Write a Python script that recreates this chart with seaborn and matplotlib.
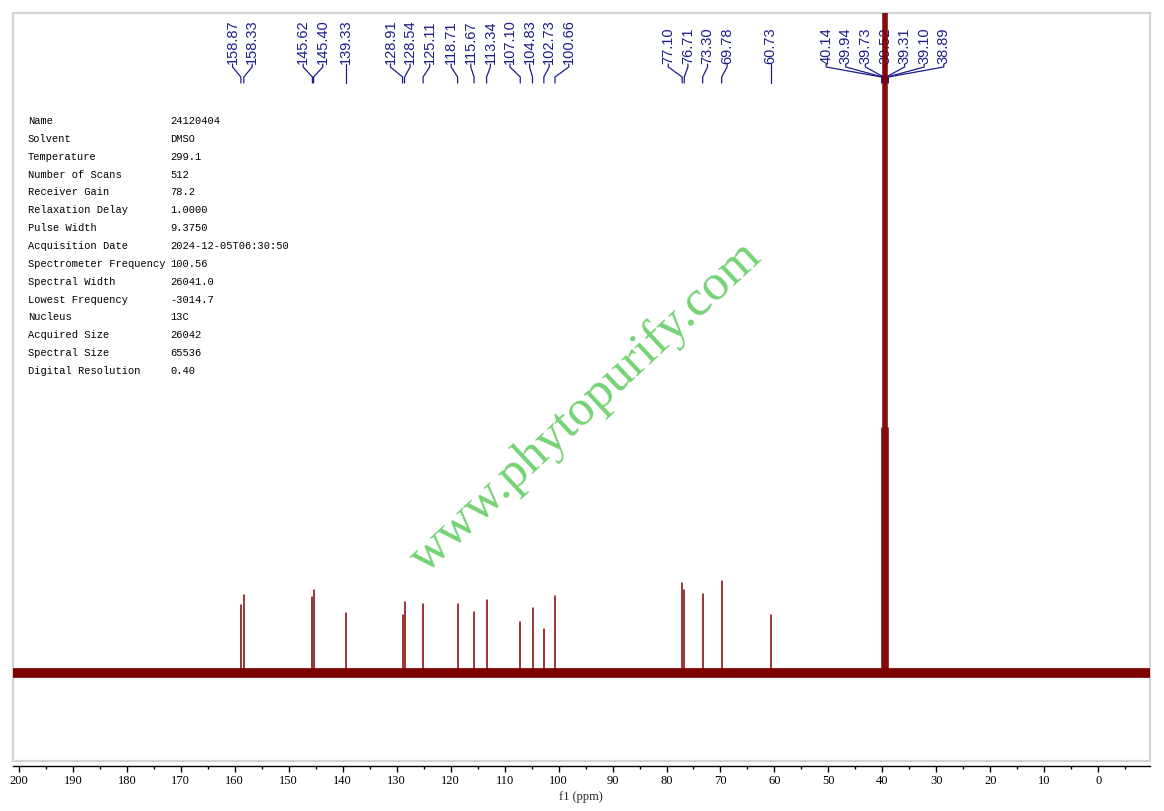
import numpy as np
import pandas as pd
import matplotlib
matplotlib.use("Agg")
import matplotlib.pyplot as plt
import matplotlib.transforms as mtransforms
from matplotlib.patches import Rectangle
import seaborn as sns

# ---------------- data ----------------
peak_ppm = [158.87, 158.33, 145.62, 145.40, 139.33, 128.91, 128.54, 125.11,
            118.71, 115.67, 113.34, 107.10, 104.83, 102.73, 100.66,
            77.10, 76.71, 73.30, 69.78, 60.73,
            40.14, 39.94, 39.73, 39.52, 39.31, 39.10, 38.89]
peak_height = [68, 78, 76, 83, 60, 58, 71, 69,
               69, 61, 73, 51, 65, 44, 77,
               90, 83, 79, 92, 58,
               245, 900, 900, 900, 900, 900, 245]

param_names = ["Name", "Solvent", "Temperature", "Number of Scans", "Receiver Gain",
               "Relaxation Delay", "Pulse Width", "Acquisition Date",
               "Spectrometer Frequency", "Spectral Width", "Lowest Frequency",
               "Nucleus", "Acquired Size", "Spectral Size", "Digital Resolution"]
param_values = ["24120404", "DMSO", "299.1", "512", "78.2", "1.0000", "9.3750",
                "2024-12-05T06:30:50", "100.56", "26041.0", "-3014.7", "13C",
                "26042", "65536", "0.40"]

major_ticks = list(range(200, -1, -10))
watermark = "www.phytopurify.com"
xlabel = "f1 (ppm)"

# ---------------- style ----------------
sns.set_theme(style="white")
plt.rcParams['font.family'] = ['DejaVu Sans']

W, H = 1164, 811
fig = plt.figure(figsize=(W / 100, H / 100), dpi=100)
ax_left, ax_right, ax_top, ax_bottom = 13, 1149.5, 12.5, 760.5
ax = fig.add_axes([ax_left / W, 1 - ax_bottom / H, (ax_right - ax_left) / W,
                   (ax_bottom - ax_top) / H])
ax.set_facecolor("white")

XMAX, XMIN = 201.1, -9.5
ax.set_xlim(XMAX, XMIN)
ax.set_ylim(-87.5, 660.5)

SPEC = "#7d0000"
NAVY = "#1c1c8c"

# baseline (noise band)
ax.axhline(0, color=SPEC, lw=7, zorder=3, solid_capstyle="butt")

# stick spectrum via seaborn
rows = []
for i, (p, h) in enumerate(zip(peak_ppm, peak_height)):
    rows.append({"ppm": p, "intensity": 0.0, "peak": i})
    rows.append({"ppm": p, "intensity": float(h), "peak": i})
df = pd.DataFrame(rows)
sns.lineplot(data=df, x="ppm", y="intensity", units="peak", estimator=None,
             color=SPEC, lw=1.1, ax=ax, zorder=4, legend=False)

# ---------------- spines / box ----------------
for s in ["left", "right", "top"]:
    ax.spines[s].set_visible(False)
ax.add_patch(Rectangle((0, 0), 1, 1, transform=ax.transAxes, fill=False,
                       edgecolor="#d4d4d4", lw=1.6, clip_on=False, zorder=0))
ax.spines["bottom"].set_visible(True)
ax.spines["bottom"].set_color("black")
ax.spines["bottom"].set_linewidth(1.0)
ax.spines["bottom"].set_position(("outward", 3.8))
ax.set_yticks([])
ax.set_xticks(major_ticks)
ax.set_xticks(list(np.arange(195, -10, -10)), minor=True)
ax.set_xticklabels([str(t) for t in major_ticks], family="Liberation Serif",
                   fontsize=9, color="black")
ax.tick_params(axis="x", which="major", direction="out", length=4.5, width=1.0,
               color="black", pad=2, bottom=True)
ax.tick_params(axis="x", which="minor", direction="out", length=2.5, width=1.0,
               color="black", bottom=True)
ax.set_xlabel(xlabel, family="Liberation Serif", fontsize=9, labelpad=3)
ax.set_ylabel("")

# ---------------- peak labels ----------------
px_per_ppm = (ax_right - ax_left) / (XMAX - XMIN)
d = 19.6 / px_per_ppm  # label spacing in ppm

order = sorted(range(len(peak_ppm)), key=lambda i: -peak_ppm[i])
clusters = [[i] for i in order]


def cluster_labels(c):
    ctr = np.mean([peak_ppm[i] for i in c])
    n = len(c)
    return [ctr + (n - 1) / 2 * d - k * d for k in range(n)]


changed = True
while changed:
    changed = False
    for k in range(len(clusters) - 1):
        a = cluster_labels(clusters[k])
        b = cluster_labels(clusters[k + 1])
        if a[-1] - d < b[0]:
            clusters[k] = clusters[k] + clusters[k + 1]
            del clusters[k + 1]
            changed = True
            break

trans = mtransforms.blended_transform_factory(ax.transData, ax.transAxes)


def yfrac(ypix):
    return (ax_bottom - ypix) / (ax_bottom - ax_top)


for c in clusters:
    labs = cluster_labels(c)
    for i, lx in zip(c, labs):
        p = peak_ppm[i]
        ax.text(lx, yfrac(64), f"{p:.2f}", rotation=90, ha="center", va="bottom",
                transform=trans, family="Liberation Sans", fontsize=10.5,
                color=NAVY, zorder=1, clip_on=False)
        ax.plot([lx, lx, p, p], [yfrac(64), yfrac(67), yfrac(77), yfrac(83)],
                transform=trans, color=NAVY, lw=0.9, zorder=1, clip_on=False)

# ---------------- parameter table ----------------
y0, dy = 121, 17.86
for k, (n, v) in enumerate(zip(param_names, param_values)):
    y = 1 - (y0 + k * dy) / H
    fig.text(28 / W, y, n, family="Liberation Mono", fontsize=7.5, color="black",
             va="center", ha="left")
    fig.text(170 / W, y, v, family="Liberation Mono", fontsize=7.5, color="black",
             va="center", ha="left")

# ---------------- watermark ----------------
fig.text(586 / W, 1 - 407 / H, watermark, rotation=43, ha="center", va="center",
         family="Liberation Serif", fontsize=37, color="#74d274", zorder=5)

fig.savefig("out.png", dpi=100)
